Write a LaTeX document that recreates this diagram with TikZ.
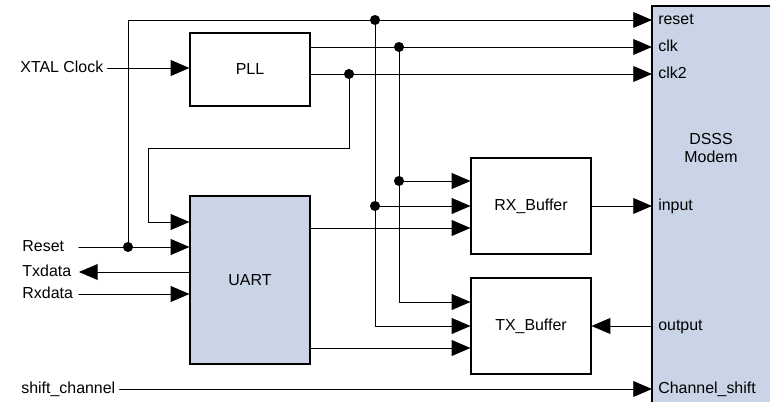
\documentclass[tikz,border=0pt]{standalone}
\usepackage{fontspec}
\setmainfont{Liberation Sans}
\usetikzlibrary{arrows.meta}
\definecolor{modemblue}{RGB}{201,212,230}

\begin{document}
\begin{tikzpicture}[x=0.03cm,y=-0.03cm,>={Triangle[length=16pt,width=13.5pt]},
  font=\fontsize{13.6}{16}\selectfont,line width=0.8pt,line cap=round,
  block/.style={draw,line width=0.9pt,minimum width=3.6cm,inner sep=0pt},
  sig/.style={anchor=west,text height=9.5pt,text depth=2.5pt},
  pin/.style={anchor=west,text width=1.68cm,align=left,inner sep=0pt,text height=9.5pt,text depth=2.5pt},
  port/.style={anchor=west,inner sep=5pt,text height=9.5pt,text depth=2.5pt}]
\useasboundingbox (0,0) rectangle (770,402);
\clip (0,0) rectangle (770,402);
\path[draw,fill=modemblue,line width=0.9pt] (652,6) rectangle (800,430);
\node[align=center] (modemname) at (711,148) {DSSS\\Modem};
\node[port] (preset) at (652,20) {reset};
\node[port] (pclk) at (652,47) {clk};
\node[port] (pclk2) at (652,74) {clk2};
\node[port] (pinput) at (652,206) {input};
\node[port] (poutput) at (652,326) {output};
\node[port] (pshift) at (652,389) {Channel\_shift};
\node[block,minimum height=2.19cm] (pll) at (250,69.5) {PLL};
\node[block,fill=modemblue,minimum height=5.04cm] (uart) at (250,280) {UART};
\node[block,minimum height=2.88cm] (rxbuf) at (531,206) {RX\_Buffer};
\node[block,minimum height=2.88cm] (txbuf) at (531,326) {TX\_Buffer};
\node[sig] (xtal) at (16,68) {XTAL Clock};
\node[pin] (rst) at (22,247) {Reset};
\node[pin] (txd) at (22,272) {Txdata};
\node[pin] (rxd) at (22,294) {Rxdata};
\node[sig] (shift) at (17,389) {shift\_channel};
\coordinate (j1) at (375,20);
\coordinate (j2) at (399,47);
\coordinate (j3) at (349,74);
\coordinate (j6) at (128,247);
\coordinate (bend) at (148,148);
\coordinate (uartclk) at ([yshift=17.4mm]uart.west);
\coordinate (rxin1) at ([yshift=7.5mm]rxbuf.west);
\coordinate (rxin3) at ([yshift=-6.6mm]rxbuf.west);
\coordinate (txin1) at ([yshift=7.2mm]txbuf.west);
\coordinate (txin3) at ([yshift=-6.6mm]txbuf.west);
\coordinate (j4) at (j2 |- rxin1);
\coordinate (j5) at (j1 |- rxbuf.west);
\draw[->] (xtal.east) -- (xtal.east -| pll.west);
\draw[->] (j6) |- (preset.west);
\draw[->] (pll.east |- pclk.west) -- (pclk.west);
\draw[->] (pll.east |- pclk2.west) -- (pclk2.west);
\draw[->] (j3) |- (bend) |- (uartclk);
\draw[->] (rst.east) -- (rst.east -| uart.west);
\draw[->] (uart.west |- txd.east) -- (txd.east);
\draw[->] (rxd.east) -- (rxd.east -| uart.west);
\draw[->] (shift.east) -- (pshift.west);
\draw[->] (j4) -- (rxin1);
\draw[->] (j5) -- (rxbuf.west);
\draw[->] (uart.east |- rxin3) -- (rxin3);
\draw[->] (j2) |- (txin1);
\draw[->] (j1) |- (txbuf.west);
\draw[->] (uart.east |- txin3) -- (txin3);
\draw[->] (rxbuf.east) -- (pinput.west);
\draw[->] (poutput.west) -- (txbuf.east);
\foreach \j in {j1,j2,j3,j4,j5,j6}
  \fill (\j) circle (4.3pt);
\end{tikzpicture}
\end{document}
